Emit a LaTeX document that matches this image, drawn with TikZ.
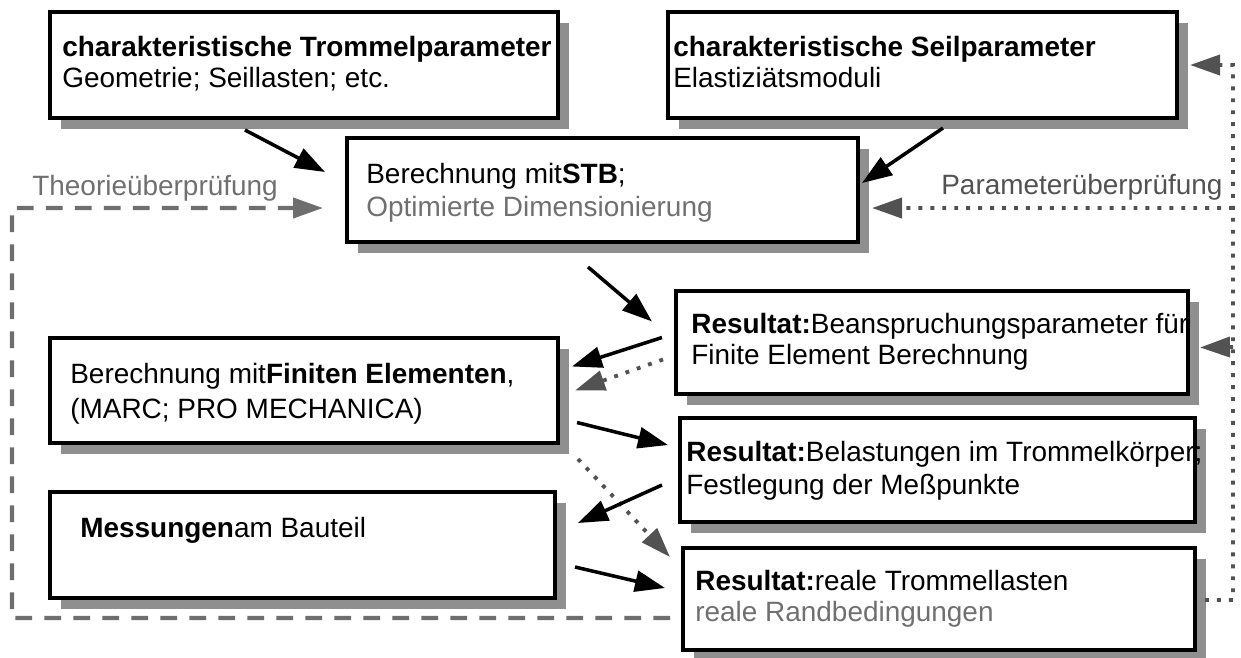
\documentclass[tikz,border=0pt]{standalone}
\usepackage{fontspec}
\setmainfont{Liberation Sans}
\usetikzlibrary{arrows.meta,shadows,calc}

\definecolor{schatten}{HTML}{8F8F8F}
\definecolor{grautext}{HTML}{707070}
\definecolor{strichgrau}{HTML}{6E6E6E}
\definecolor{punktgrau}{HTML}{525252}

\tikzset{
  kasten/.style={draw, line width=1.9pt, fill=white, anchor=north west,
    inner sep=0pt, outer sep=0pt,
    drop shadow={shadow xshift=2.2mm, shadow yshift=-2.2mm, fill=schatten, opacity=1}},
  zeile/.style={anchor=base west, inner sep=0pt},
  pfeil/.style={line width=2pt, -{Triangle[length=6mm,width=4.2mm]}},
  theorie/.style={strichgrau, line width=2.3pt, dash pattern=on 9.5pt off 7pt,
    -{Triangle[length=6mm,width=4mm]}},
  parameter/.style={punktgrau, line width=2.2pt, dash pattern=on 2.2pt off 4.6pt,
    -{Triangle[length=6mm,width=4mm]}},
}

\begin{document}
\begin{tikzpicture}[x=0.2mm, y=-0.2mm, font=\fontsize{15.9}{19}\selectfont]
    \useasboundingbox (0,0) rectangle (1241,657);
    % Kaesten
    \node[kasten, minimum width=101.6mm, minimum height=21.2mm] (trommel) at (50,12) {};
    \node[kasten, minimum width=101.8mm, minimum height=21.2mm] (seil) at (668,12) {};
    \node[kasten, minimum width=102.2mm, minimum height=20.8mm] (stb) at (347,138) {};
    \node[kasten, minimum width=102.4mm, minimum height=20.6mm] (beanspr) at (676,291) {};
    \node[kasten, minimum width=101.6mm, minimum height=21mm] (fem) at (50,338) {};
    \node[kasten, minimum width=103mm, minimum height=20.8mm] (belast) at (680,418) {};
    \node[kasten, minimum width=101mm, minimum height=21.2mm] (mess) at (50,492) {};
    \node[kasten, minimum width=102.4mm, minimum height=20.4mm] (real) at (683,548) {};
    % Texte
    \node[zeile] (trommel1) at (62,56) {\textbf{charakteristische Trommelparameter}};
    \node[zeile] (trommel2) at (62,87) {Geometrie; Seillasten; etc.};
    \node[zeile] (seil1) at (673,56) {\textbf{charakteristische Seilparameter}};
    \node[zeile] (seil2) at (673,87) {Elastiziätsmoduli};
    \node[zeile] (stb1) at (366,183) {Berechnung mit\textbf{STB};};
    \node[zeile, grautext] (stb2) at (366,216) {Optimierte Dimensionierung};
    \node[zeile] (beanspr1) at (691,333) {\textbf{Resultat:}Beanspruchungsparameter für};
    \node[zeile] (beanspr2) at (691,364) {Finite Element Berechnung};
    \node[zeile] (fem1) at (70,383) {Berechnung mit\textbf{Finiten Elementen},};
    \node[zeile] (fem2) at (70,418) {(MARC; PRO MECHANICA)};
    \node[zeile] (belast1) at (686,461) {\textbf{Resultat:}Belastungen im Trommelkörper;};
    \node[zeile] (belast2) at (686,494) {Festlegung der Meßpunkte};
    \node[zeile] (mess1) at (80,537) {\textbf{Messungen}am Bauteil};
    \node[zeile] (real1) at (695,590) {\textbf{Resultat:}reale Trommellasten};
    \node[zeile, grautext] (real2) at (695,621) {reale Randbedingungen};
    \node[zeile, grautext] (theorie) at (32,195) {Theorieüberprüfung};
    \node[zeile, punktgrau] (param) at (941,194) {Parameterüberprüfung};
    % Pfeile
    \draw[pfeil] ($(trommel.south west)+(195,12)$) -- ($(stb.west)+(-22,-18)$);
    \draw[pfeil] ($(seil.south west)+(275,10)$) -- ($(stb.east)+(4,-7)$);
    \draw[pfeil] ($(stb.south west)+(241,25)$) -- ($(beanspr.west)+(-24,-21)$);
    \draw[pfeil] ($(beanspr.west)+(-14,-5)$) -- ($(fem.east)+(14,-24)$);
    \draw[parameter] ($(beanspr.west)+(-13,17)$) -- ($(fem.east)+(17,0)$);
    \draw[pfeil] ($(fem.east)+(19,32)$) -- ($(belast.west)+(-12,-25)$);
    \draw[parameter] ($(fem.south east)+(20,16)$) -- ($(real.north west)+(-13,9)$);
    \draw[pfeil] ($(belast.west)+(-18,15)$) -- ($(mess.east)+(23,-22)$);
    \draw[pfeil] ($(mess.east)+(20,22)$) -- ($(real.west)+(-18,-11)$);
    % Rueckfuehrungen
    \coordinate (links) at (12,208);
    \coordinate (rechts) at (1233,65);
    \draw[theorie] ($(real.west)+(-13,19)$) -| (links) -- ($(stb.west)+(-24,18)$);
    \draw[parameter] ($(real.east)+(10,1)$) -| (rechts) -- ($(seil.east)+(13,0)$);
    \draw[parameter] ($(rechts)+(0,143)$) -- ($(stb.east)+(14,18)$);
    \draw[parameter] ($(rechts)+(0,282)$) -- ($(beanspr.east)+(12,5)$);
\end{tikzpicture}
\end{document}
